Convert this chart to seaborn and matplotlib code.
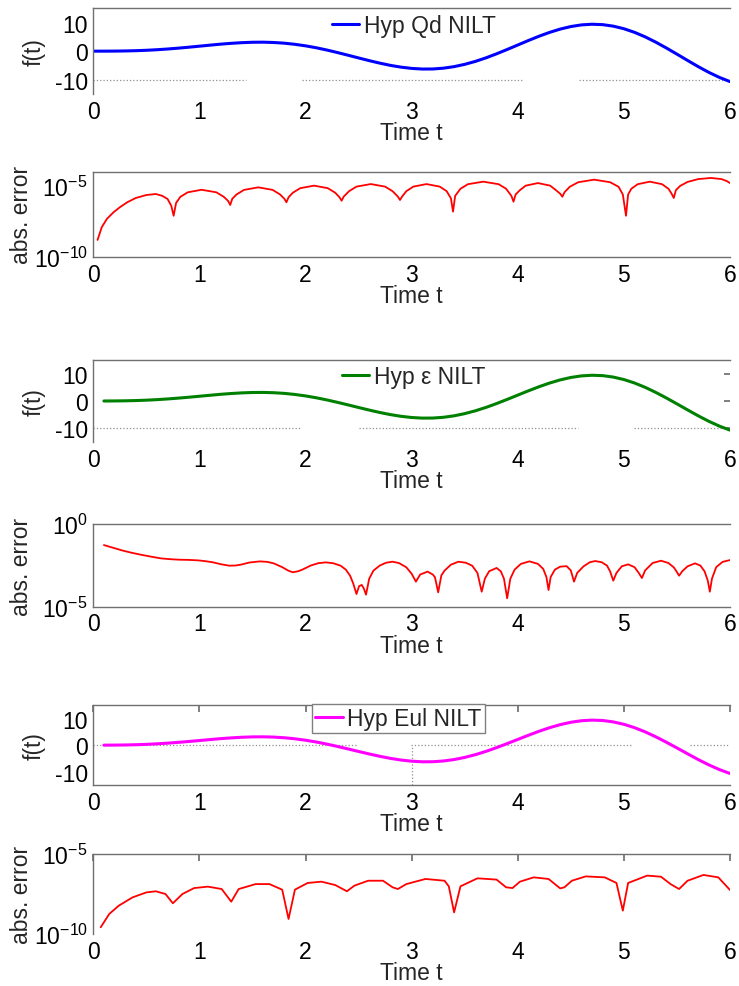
import numpy as np
import matplotlib
matplotlib.use("Agg")
import matplotlib.pyplot as plt
import seaborn as sns

# f(t), paso 0.1 de 0 a 6
t_f = np.linspace(0, 6, 61)
f_vals = [0.00, 0.00, 0.02, 0.07, 0.16, 0.30, 0.50, 0.75, 1.05, 1.38,
          1.74, 2.10, 2.45, 2.74, 2.97, 3.11, 3.14, 3.03, 2.79, 2.39,
          1.86, 1.19, 0.40, -0.48, -1.42, -2.38, -3.32, -4.20, -4.98, -5.60,
          -6.04, -6.26, -6.24, -5.96, -5.42, -4.62, -3.59, -2.35, -0.94, 0.58,
          2.15, 3.72, 5.22, 6.57, 7.72, 8.61, 9.19, 9.42, 9.28, 8.75,
          7.85, 6.59, 5.01, 3.16, 1.11, -1.05, -3.25, -5.41, -7.42, -9.19,
          -10.66]

# errores absolutos (exponente log10)
t_qd = [0.04, 0.08, 0.13, 0.19, 0.25, 0.32, 0.40, 0.50, 0.59, 0.65, 0.70, 0.735, 0.757,
        0.78, 0.82, 0.89, 1.02, 1.16, 1.23, 1.27, 1.29,
        1.31, 1.35, 1.42, 1.555, 1.69, 1.76, 1.80, 1.82,
        1.84, 1.88, 1.95, 2.08, 2.21, 2.28, 2.32, 2.34,
        2.36, 2.41, 2.48, 2.615, 2.75, 2.82, 2.87, 2.89,
        2.91, 2.95, 3.015, 3.14, 3.265, 3.33, 3.37, 3.39,
        3.41, 3.46, 3.53, 3.675, 3.82, 3.89, 3.94, 3.96,
        3.98, 4.02, 4.075, 4.19, 4.305, 4.36, 4.40, 4.42,
        4.44, 4.49, 4.57, 4.72, 4.87, 4.95, 4.99, 5.02,
        5.04, 5.07, 5.13, 5.245, 5.36, 5.42, 5.45, 5.47,
        5.49, 5.53, 5.60, 5.70, 5.82, 5.92, 5.97, 6.0]
log_err_qd = [-8.8, -7.9, -7.3, -6.86, -6.5, -6.15, -5.85, -5.64, -5.57, -5.7, -5.92, -6.4, -7.1,
              -6.2, -5.77, -5.45, -5.27, -5.45, -5.77, -6.05, -6.34,
              -5.9, -5.6, -5.28, -5.1, -5.28, -5.6, -5.9, -6.15,
              -5.8, -5.48, -5.16, -4.98, -5.16, -5.48, -5.8, -6.04,
              -5.75, -5.37, -5.05, -4.87, -5.05, -5.37, -5.75, -5.99,
              -5.75, -5.37, -5.05, -4.87, -5.05, -5.37, -5.87, -6.81,
              -5.7, -5.2, -4.88, -4.7, -4.88, -5.2, -5.7, -6.11,
              -5.6, -5.3, -4.98, -4.8, -4.98, -5.3, -5.55, -5.76,
              -5.45, -5.06, -4.74, -4.56, -4.74, -5.06, -5.6, -7.1,
              -5.6, -5.2, -4.88, -4.7, -4.88, -5.2, -5.55, -5.85,
              -5.3, -5.0, -4.72, -4.52, -4.44, -4.52, -4.66, -4.8]

t_eps = [0.10, 0.20, 0.28, 0.37, 0.46, 0.55, 0.64, 0.73, 0.82, 0.90,
         0.99, 1.06, 1.13, 1.20, 1.28, 1.34, 1.39, 1.47, 1.57, 1.64,
         1.70, 1.78, 1.84, 1.88, 1.93, 1.97, 2.05, 2.12, 2.19, 2.26,
         2.33, 2.38, 2.42, 2.45, 2.48, 2.505, 2.53, 2.55, 2.57, 2.60,
         2.64, 2.70, 2.76, 2.82, 2.88, 2.95, 3.00, 3.04, 3.08, 3.15,
         3.20, 3.22, 3.25, 3.28, 3.31, 3.37, 3.44, 3.51, 3.57, 3.62,
         3.66, 3.69, 3.73, 3.80, 3.84, 3.87, 3.90, 3.93, 3.97, 4.03,
         4.11, 4.19, 4.24, 4.27, 4.29, 4.31, 4.35, 4.40, 4.46, 4.50,
         4.53, 4.56, 4.62, 4.68, 4.73, 4.79, 4.84, 4.87, 4.90, 4.93,
         4.98, 5.04, 5.10, 5.14, 5.17, 5.20, 5.27, 5.35, 5.42, 5.47,
         5.50, 5.52, 5.55, 5.60, 5.67, 5.72, 5.76, 5.79, 5.81, 5.83,
         5.87, 5.93, 6.0]
log_err_eps = [-1.26, -1.45, -1.6, -1.74, -1.86, -1.97, -2.07, -2.12, -2.15, -2.16,
               -2.19, -2.24, -2.31, -2.42, -2.51, -2.5, -2.45, -2.32, -2.25, -2.28,
               -2.37, -2.6, -2.82, -2.91, -2.85, -2.75, -2.5, -2.36, -2.31, -2.36,
               -2.51, -2.75, -3.12, -3.6, -4.23, -3.75, -3.68, -3.9, -4.27, -3.3,
               -2.81, -2.5, -2.33, -2.27, -2.35, -2.61, -3.0, -3.48, -3.05, -2.87,
               -3.05, -3.22, -4.13, -3.1, -2.81, -2.45, -2.27, -2.33, -2.51, -2.95,
               -4.09, -3.3, -2.85, -2.65, -2.85, -3.3, -4.49, -3.3, -2.75, -2.4,
               -2.25, -2.4, -2.71, -3.2, -3.99, -3.2, -2.75, -2.57, -2.54, -2.8,
               -3.48, -2.95, -2.55, -2.3, -2.23, -2.3, -2.5, -2.85, -3.42, -2.95,
               -2.55, -2.43, -2.6, -2.95, -3.26, -2.8, -2.35, -2.21, -2.35, -2.61,
               -2.9, -3.12, -2.85, -2.55, -2.37, -2.5, -2.85, -3.4, -4.09, -3.3,
               -2.6, -2.28, -2.17]

t_eul = [0.07, 0.15, 0.24, 0.37, 0.50, 0.59, 0.68, 0.75, 0.84, 0.95,
         1.08, 1.21, 1.30, 1.37, 1.53, 1.66, 1.78, 1.84, 1.90, 2.02,
         2.15, 2.28, 2.39, 2.46, 2.59, 2.73, 2.82, 2.87, 2.95, 3.13,
         3.31, 3.35, 3.40, 3.46, 3.62, 3.80, 3.89, 3.95, 4.02, 4.15,
         4.29, 4.40, 4.44, 4.51, 4.64, 4.82, 4.93, 4.99, 5.04, 5.22,
         5.35, 5.44, 5.52, 5.60, 5.75, 5.89, 6.0]
log_err_eul = [-9.58, -8.75, -8.23, -7.71, -7.4, -7.33, -7.5, -8.08, -7.5, -7.13,
               -7.04, -7.19, -7.98, -7.19, -6.88, -6.88, -7.23, -9.06, -7.23, -6.81,
               -6.73, -6.94, -7.33, -6.98, -6.67, -6.67, -7.08, -7.19, -6.88, -6.56,
               -6.67, -7.02, -8.65, -7.02, -6.52, -6.6, -7.08, -7.13, -6.73, -6.46,
               -6.56, -7.15, -7.08, -6.67, -6.4, -6.46, -6.81, -8.54, -6.81, -6.35,
               -6.42, -6.88, -7.19, -6.67, -6.31, -6.46, -7.25]

legend_labels = ["Hyp Qd NILT", "Hyp \u03b5 NILT", "Hyp Eul NILT"]
line_colors = ["#0000ff", "#008000", "#ff00ff"]
f_start = [0, 1, 1]

sns.set_theme(style="white")
plt.rcParams["font.family"] = ["Liberation Sans", "DejaVu Sans"]
plt.rcParams["mathtext.default"] = "regular"
plt.rcParams["axes.unicode_minus"] = False

fig = plt.figure(figsize=(7.39, 9.87), dpi=100)
W, H = 739.0, 987.0
x0, x1 = 93.3, 730.0
# (top, bottom) en pixeles
boxes = [(9.3, 95), (172.7, 258), (361, 443), (525.3, 607.7), (706.3, 786), (855, 935)]
axes = []
for top, bot in boxes:
    axes.append(fig.add_axes([x0 / W, 1 - bot / H, (x1 - x0) / W, (bot - top) / H]))

spine_col = "#707070"
fs = 16.5

# lineas de rejilla punteadas que quedan en el original
dotted = {0: [(-10, 0, 1.44), (-10, 1.97, 4.04), (-10, 4.58, 6)],
          2: [(-10, 0, 1.96), (-10, 2.5, 4.57), (-10, 5.1, 6)],
          4: [(0, 0, 2.49), (0, 2.99, 5.07), (0, 5.62, 6)]}

for k in range(3):
    ax = axes[2 * k]
    s = f_start[k]
    for y, a, b in dotted[2 * k]:
        ax.hlines(y, a, b, colors="#909090", linestyles=":", lw=0.9)
    if k == 2:
        ax.vlines(3, -15, 0, colors="#909090", linestyles=":", lw=0.9)
    sns.lineplot(x=t_f[s:], y=f_vals[s:], ax=ax, color=line_colors[k], lw=2.2,
                 label=legend_labels[k])
    ax.set_ylim(-15, 15)
    ax.set_yticks([-10, 0, 10])
    ax.set_ylabel("f(t)", fontsize=fs)
    ax.yaxis.set_label_coords(-0.075, 0.5)
    if k == 2:
        ax.legend(loc="center", bbox_to_anchor=(0.479, 0.834), fontsize=fs,
                  handlelength=1.2, handletextpad=0.2, borderpad=0.15,
                  frameon=True, fancybox=False, framealpha=1, edgecolor="#808080")
    else:
        ax.legend(loc="center", bbox_to_anchor=(0.503, 0.80), fontsize=fs,
                  handlelength=1.2, handletextpad=0.2, frameon=False)

err_t = [t_qd, t_eps, t_eul]
err_v = [log_err_qd, log_err_eps, log_err_eul]
err_lim = [(1e-10, 1e-4), (1e-5, 1e0), (1e-10, 1e-5)]
err_ticks = [[1e-10, 1e-5], [1e-5, 1e0], [1e-10, 1e-5]]
err_ticklabels = [["$10^{-10}$", "$10^{-5}$"], ["$10^{-5}$", "$10^{0}$"],
                  ["$10^{-10}$", "$10^{-5}$"]]
for k in range(3):
    ax = axes[2 * k + 1]
    ax.set_yscale("log")
    sns.lineplot(x=err_t[k], y=10.0 ** np.array(err_v[k]), ax=ax, color="#ff0000",
                 lw=1.3)
    ax.set_ylim(*err_lim[k])
    ax.set_yticks(err_ticks[k])
    ax.set_yticklabels(err_ticklabels[k])
    ax.minorticks_off()
    ax.set_ylabel("abs. error", fontsize=fs)
    ax.yaxis.set_label_coords(-0.095, 0.5)

bottom_visible = [False, True, False, True, True, False]
for i, ax in enumerate(axes):
    ax.set_xlim(0, 6)
    ax.set_xticks(range(7))
    ax.set_xlabel("Time t", fontsize=fs, labelpad=-1)
    ax.tick_params(labelsize=fs, length=0, pad=4, colors="black")
    for side in ["top", "left", "bottom"]:
        ax.spines[side].set_color(spine_col)
        ax.spines[side].set_linewidth(1.0)
    ax.spines["right"].set_visible(False)
    ax.spines["bottom"].set_visible(bottom_visible[i])
    ax.set_facecolor("white")

# marcas internas visibles en algunos paneles
axes[2].tick_params(axis="y", direction="in", length=4, color=spine_col, right=True)
for i in (4, 5):
    axes[i].tick_params(axis="x", direction="in", length=5, color=spine_col, top=True)

fig.savefig("out.png", dpi=100, facecolor="white")
